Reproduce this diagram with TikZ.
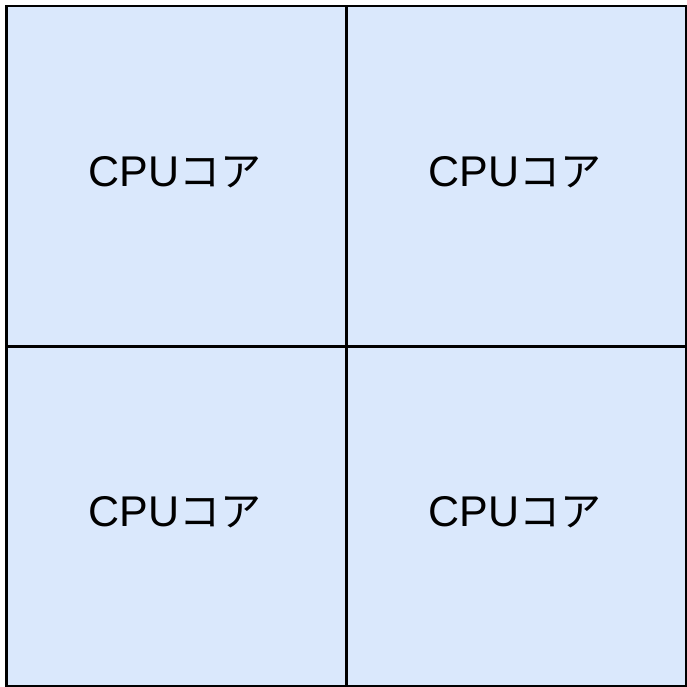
\documentclass[tikz,border=0pt]{standalone}
\usepackage{fontspec}
\setmainfont{Liberation Sans}
\newfontfamily\cjk{Noto Sans CJK JP}
\definecolor{corefill}{HTML}{DAE8FC}
\tikzset{
  core/.style={draw=black, line width=2.5pt, fill=corefill, minimum width=340pt, minimum height=340pt, inner sep=0pt, anchor=north west},
}
\newcommand{\corelabel}{\fontsize{43pt}{50pt}\selectfont CPU{\fontsize{41pt}{46pt}\selectfont\cjk コア}}
\begin{document}
\begin{tikzpicture}[x=1pt,y=-1pt]
\useasboundingbox (0,0) rectangle (686,687);
\node[core] (c1) at (5,5) {};
\node[core] (c2) at (345,5) {};
\node[core] (c3) at (5,345) {};
\node[core] (c4) at (345,345) {};
\node (t1) at (175,172) {\corelabel};
\node (t2) at (515,172) {\corelabel};
\node (t3) at (175,512) {\corelabel};
\node (t4) at (515,512) {\corelabel};
\end{tikzpicture}
\end{document}
